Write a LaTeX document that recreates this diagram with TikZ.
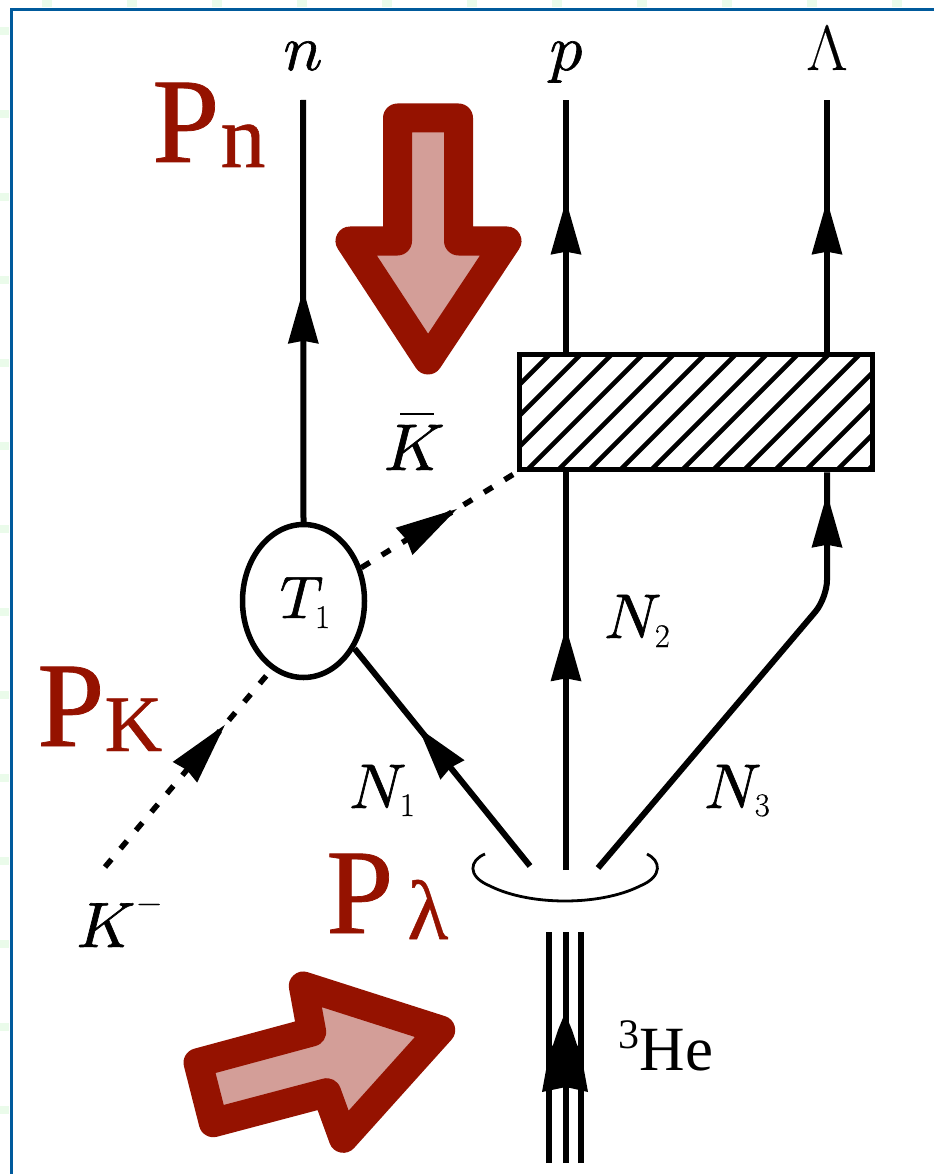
\documentclass[tikz,border=0pt]{standalone}
\usepackage{fontspec}
\usepackage{graphicx}
\setmainfont{Liberation Serif}
\newfontfamily\redfont[FakeBold=0.6]{Liberation Serif}
\newfontfamily\lmfont[FakeBold=0.25]{Latin Modern Roman}
\newcommand\mitext[2]{\scalebox{\fpeval{#1/10}}{\special{pdf:code 2 Tr 0.1 w}\fontsize{10pt}{10pt}\usefont{OML}{lmm}{m}{it}#2\special{pdf:code 0 Tr}}}
\usetikzlibrary{shapes.geometric,arrows.meta,decorations.markings}
\definecolor{deepred}{HTML}{951200}
\definecolor{palered}{HTML}{D39E98}
\definecolor{frameblue}{HTML}{005A9C}
\definecolor{faintgreen}{HTML}{EAFBEA}
\tikzset{
  midtip/.style={postaction={decorate},decoration={markings,mark=at position #1 with {\arrow{Stealth[length=54pt,width=31pt,inset=3pt,line width=0pt]}}}},
  dashtip/.style={postaction={decorate},decoration={markings,mark=at position #1 with {\arrow{Stealth[length=62pt,width=32pt,inset=3pt,line width=0pt]}}}},
  wline/.style={line width=6pt,black},
  dline/.style={line width=5.5pt,black,dash pattern=on 10pt off 14pt},
  bigarrow/.style={draw=deepred,fill=palered,line width=29pt,line join=round},
  bigtext/.style={text=deepred,inner sep=0pt,anchor=base west,font=\redfont\fontsize{121pt}{121pt}\selectfont},
  lab/.style={inner sep=0pt,anchor=base,text=black},
}
\newcommand\subdig[2]{\raisebox{-#1pt}{\lmfont\fontsize{33pt}{33pt}\selectfont #2}}
\begin{document}
\begin{tikzpicture}[x=1pt,y=-1pt]
\path[use as bounding box,fill=white] (0,0) rectangle (934,1174);
\foreach \k in {0,...,10}{\fill[faintgreen] ({42+85*\k},0) rectangle ++(10,7);}
\foreach \k in {0,...,13}{\fill[faintgreen] (0,{27+83*\k}) rectangle ++(9,8);}
\draw[frameblue,line width=2.6pt] (11.5,1174) -- (11.5,9.5) -- (934,9.5);

% red arrows
\draw[bigarrow] (397.5,118) -- (458.5,118) -- (458.5,241) -- (507,241) -- (428,360) -- (350,241) -- (397.5,241) -- cycle;
\draw[bigarrow] (198,1062.7) -- (311.7,1032) -- (303.3,986) -- (440.7,1030) -- (343.3,1138.3) -- (326.7,1092.7) -- (213.3,1122.7) -- cycle;

% free ends
\coordinate (ntop) at (303,100);
\coordinate (ptop) at (566,100);
\coordinate (ltop) at (827,100);
\coordinate (pbot) at (566,870);
\coordinate (n1end) at (530,866);
\coordinate (n3end) at (598,868);
\coordinate (kend) at (105,867);

% hatched box and T1
\begin{scope}
\clip (519.5,354.5) rectangle (872.5,469.5);
\foreach \k in {-4,...,14}{
  \draw[line width=4.6pt] ({581+31*\k},354) -- ({581+31*\k-117.5},{354+117.5});
}
\end{scope}
\node[draw=black,line width=5.5pt,minimum width=353pt,minimum height=115pt,inner sep=0pt] (box) at (696,412) {};
\node[ellipse,draw=black,line width=5.5pt,minimum width=122pt,minimum height=153pt,inner sep=0pt] (t1) at (303.5,601) {};

% connectors
\draw[wline,midtip=0.55] (t1.north) -- (ntop);
\draw[wline,midtip=0.60] (ptop |- box.north) -- (ptop);
\draw[wline,midtip=0.60] (ltop |- box.north) -- (ltop);
\draw[wline,midtip=0.61] (pbot) -- (ptop |- box.south);
\draw[wline,midtip=0.635] (n1end) -- (t1.-43);
\draw[wline,midtip=0.955,rounded corners=18pt] (n3end) -- (827,598) -- (ltop |- box.south);
\draw[dline,dashtip=0.72] (kend) -- (t1.-115);
\draw[dline,dashtip=0.615] (t1.30) -- (box.south west);

% loop under 3He
\coordinate (loopa) at (485,854);
\coordinate (loopb) at (647,854);
\draw[line width=2.8pt,black] (loopa) .. controls (470,860) and (466,876) .. (490,886) .. controls (530,906) and (600,906) .. (640,886) .. controls (664,876) and (660,860) .. (loopb);

% 3He triple line
\coordinate (hea) at (549,1163);
\coordinate (heb) at (566,1163);
\coordinate (hec) at (581,1163);
\coordinate (heat) at (549,932);
\coordinate (hebt) at (566,932);
\coordinate (hect) at (581,932);
\draw[line width=6.5pt] (hea) -- (heat);
\draw[line width=6.5pt] (heb) -- (hebt);
\draw[line width=6.5pt] (hec) -- (hect);
\path[fill=black] (542,1092) -- (546,1070) -- (549,1050) -- (553,1045) -- (558,1030) -- (565,1013) -- (572,1030) -- (577,1045) -- (581,1050) -- (584,1070) -- (588,1092) -- (566,1087) -- cycle;

% labels
\node[lab] (ln) at (303,70) {\mitext{65}{n}};
\node[lab] (lp) at (566,70) {\mitext{65}{p}};
\node[lab] (ll) at (827,70) {\lmfont\fontsize{64pt}{64pt}\selectfont Λ};
\node[lab] (kbar) at (412,470) {\mitext{66}{K}\llap{\rule[55pt]{34pt}{2.4pt}\kern6pt}};
\node[lab] (tl) at (305,618) {\mitext{60}{T}\subdig{10}{1}};
\node[lab] (n1) at (382,808) {\mitext{63}{N}\subdig{8}{1}};
\node[lab] (n2) at (637,638) {\mitext{63}{N}\subdig{9}{2}};
\node[lab] (n3) at (737,808) {\mitext{63}{N}\subdig{8}{3}};
\node[lab] (km) at (119,947) {\mitext{64}{K}\kern6pt\raisebox{34pt}{\lmfont\fontsize{34pt}{34pt}\selectfont −}};
\node[lab] (he) at (666,1070) {\raisebox{22pt}{\fontsize{42pt}{42pt}\selectfont 3}\fontsize{63pt}{63pt}\selectfont He};

\node[bigtext] (pn) at (152,162) {P\kern1pt\raisebox{-5pt}{\fontsize{90pt}{90pt}\selectfont n}};
\node[bigtext] (pk) at (37,746) {P\raisebox{-5pt}{\fontsize{80pt}{80pt}\selectfont K}};
\node[bigtext] (pl) at (326,933) {P\kern14pt\raisebox{-6pt}{\fontsize{84pt}{84pt}\selectfont λ}};
\end{tikzpicture}
\end{document}
